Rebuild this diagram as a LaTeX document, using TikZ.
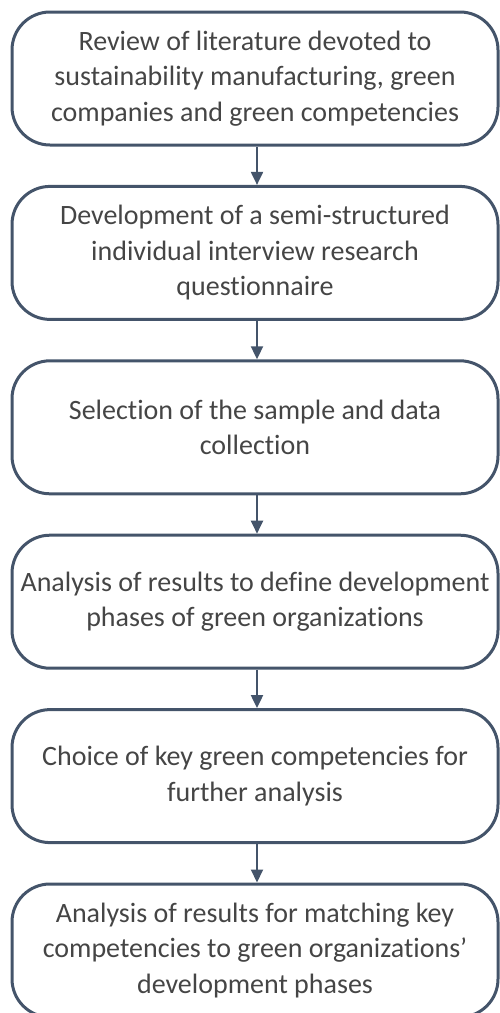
\documentclass[tikz,border=0pt]{standalone}
\usepackage{fontspec}
\setmainfont{Carlito}[Ligatures={NoCommon}]
\usepackage{xcolor}
\usetikzlibrary{arrows.meta}

\definecolor{boxline}{HTML}{44546A}
\definecolor{boxtext}{HTML}{454545}

\tikzset{
    stepbox/.style={draw=boxline, line width=3pt, rounded corners=38pt,
        minimum width=486pt, minimum height=133pt, align=center,
        text=boxtext, font=\fontsize{28}{35.5}\selectfont, inner sep=0pt},
    flow/.style={draw=boxline, line width=2pt, -{Triangle[width=12pt,length=13pt]}}
}

\begin{document}
\begin{tikzpicture}[x=1pt, y=1pt]
            \useasboundingbox (0, 0) rectangle (500, -1013);
            %
            \node[stepbox] (review) at (255, -78.5) {Review of literature devoted to\\ sustainability manufacturing, green\\ companies and green competencies};
            \node[stepbox] (questionnaire) at (255, -252.9) {Development of a semi-structured\\ individual interview research\\ questionnaire};
            \node[stepbox] (sample) at (255, -427.3) {Selection of the sample and data\\ collection};
            \node[stepbox] (phases) at (255, -601.7) {Analysis of results to define development\\ phases of green organizations};
            \node[stepbox] (choice) at (255, -776.1) {Choice of key green competencies for\\ further analysis};
            \node[stepbox] (matching) at (255, -950.5) {Analysis of results for matching key\\ competencies to green organizations'\\ development phases};
            %
            \draw[flow] ([xshift=2pt]review.south) -- ([xshift=2pt]questionnaire.north);
            \draw[flow] ([xshift=2pt]questionnaire.south) -- ([xshift=2pt]sample.north);
            \draw[flow] ([xshift=2pt]sample.south) -- ([xshift=2pt]phases.north);
            \draw[flow] ([xshift=2pt]phases.south) -- ([xshift=2pt]choice.north);
            \draw[flow] ([xshift=2pt]choice.south) -- ([xshift=2pt]matching.north);
        \end{tikzpicture}
\end{document}
